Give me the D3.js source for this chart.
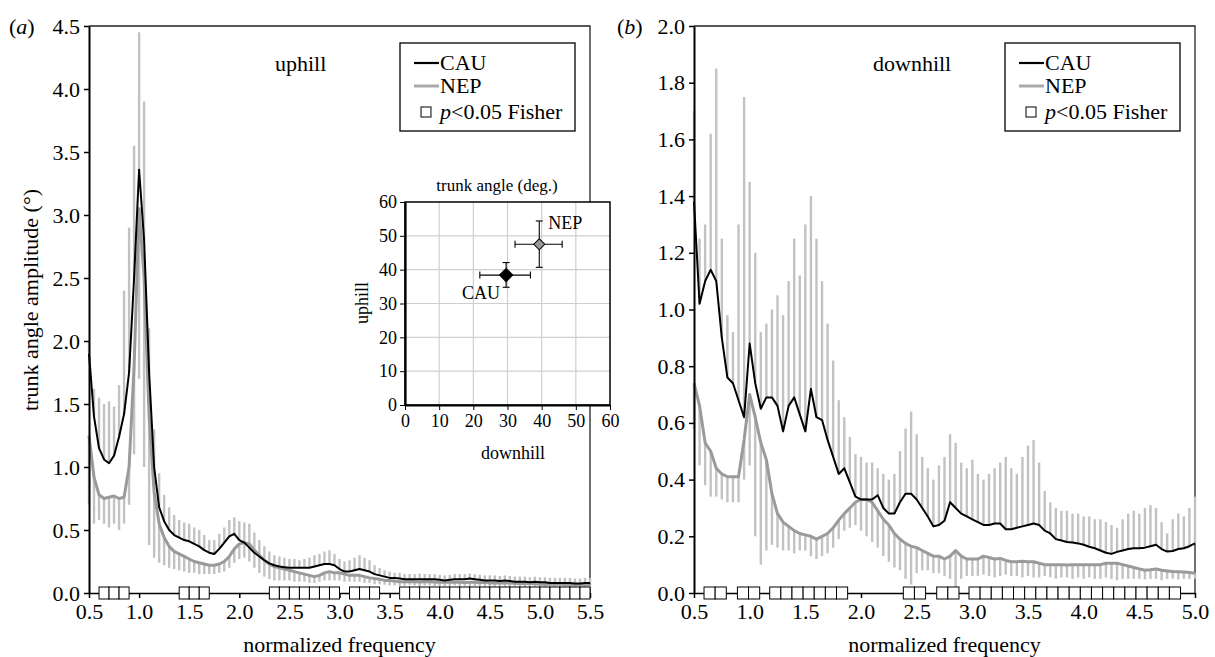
<!DOCTYPE html>
<html>
<head>
<meta charset="utf-8">
<title>trunk angle amplitude</title>
<script src="https://cdn.jsdelivr.net/npm/d3@7"></script>
<style>
  body { margin: 0; background: #fff; }
  text { font-family: "Liberation Serif", "Times New Roman", serif; }
</style>
</head>
<body>
<script>
'use strict';

// normalized frequency grid (panel b stops at 5.0)
var freqA = [
  0.50, 0.55, 0.60, 0.65, 0.70, 0.75, 0.80, 0.85, 0.90, 0.95,
  1.00, 1.05, 1.10, 1.15, 1.20, 1.25, 1.30, 1.35, 1.40, 1.45,
  1.50, 1.55, 1.60, 1.65, 1.70, 1.75, 1.80, 1.85, 1.90, 1.95,
  2.00, 2.05, 2.10, 2.15, 2.20, 2.25, 2.30, 2.35, 2.40, 2.45,
  2.50, 2.55, 2.60, 2.65, 2.70, 2.75, 2.80, 2.85, 2.90, 2.95,
  3.00, 3.05, 3.10, 3.15, 3.20, 3.25, 3.30, 3.35, 3.40, 3.45,
  3.50, 3.55, 3.60, 3.65, 3.70, 3.75, 3.80, 3.85, 3.90, 3.95,
  4.00, 4.05, 4.10, 4.15, 4.20, 4.25, 4.30, 4.35, 4.40, 4.45,
  4.50, 4.55, 4.60, 4.65, 4.70, 4.75, 4.80, 4.85, 4.90, 4.95,
  5.00, 5.05, 5.10, 5.15, 5.20, 5.25, 5.30, 5.35, 5.40, 5.45,
  5.50
];
var freqB = freqA.slice(0, 91);

// (a) uphill
var cauA = [
  1.90, 1.40, 1.15, 1.06, 1.03, 1.09, 1.24, 1.42, 1.75, 2.50,
  3.36, 2.80, 1.75, 1.00, 0.68, 0.57, 0.50, 0.46, 0.44, 0.42,
  0.41, 0.39, 0.37, 0.34, 0.32, 0.31, 0.35, 0.40, 0.45, 0.47,
  0.42, 0.40, 0.36, 0.32, 0.29, 0.26, 0.235, 0.22, 0.21, 0.205,
  0.20, 0.20, 0.20, 0.20, 0.20, 0.21, 0.22, 0.23, 0.23, 0.22,
  0.19, 0.17, 0.17, 0.18, 0.19, 0.18, 0.17, 0.15, 0.14, 0.13,
  0.12, 0.12, 0.115, 0.11, 0.11, 0.11, 0.11, 0.11, 0.11, 0.11,
  0.105, 0.10, 0.105, 0.11, 0.11, 0.11, 0.115, 0.11, 0.105, 0.10,
  0.10, 0.10, 0.095, 0.10, 0.095, 0.09, 0.09, 0.09, 0.085, 0.09,
  0.085, 0.085, 0.08, 0.08, 0.08, 0.08, 0.08, 0.075, 0.075, 0.08,
  0.08
];
var cauUpA = [
  2.00, 1.62, 1.55, 1.50, 1.52, 1.48, 1.65, 2.40, 2.90, 3.55,
  4.45, 3.90, 2.10, 1.30, 0.95, 0.78, 0.68, 0.62, 0.58, 0.56,
  0.55, 0.52, 0.50, 0.46, 0.42, 0.42, 0.47, 0.52, 0.58, 0.60,
  0.57, 0.56, 0.55, 0.48, 0.42, 0.37, 0.33, 0.30, 0.29, 0.28,
  0.27, 0.27, 0.26, 0.27, 0.28, 0.30, 0.31, 0.33, 0.34, 0.31,
  0.27, 0.25, 0.26, 0.28, 0.30, 0.28, 0.26, 0.22, 0.20, 0.18,
  0.17, 0.16, 0.16, 0.15, 0.15, 0.15, 0.155, 0.15, 0.15, 0.15,
  0.145, 0.14, 0.145, 0.15, 0.15, 0.15, 0.155, 0.15, 0.145, 0.14,
  0.14, 0.14, 0.135, 0.14, 0.135, 0.13, 0.13, 0.13, 0.125, 0.13,
  0.125, 0.125, 0.12, 0.12, 0.12, 0.12, 0.12, 0.115, 0.115, 0.12,
  0.12
];
var nepA = [
  1.25, 0.92, 0.78, 0.75, 0.76, 0.77, 0.75, 0.76, 1.00, 1.80,
  3.05, 2.50, 1.40, 0.80, 0.55, 0.44, 0.37, 0.33, 0.31, 0.29,
  0.27, 0.25, 0.24, 0.23, 0.22, 0.22, 0.23, 0.25, 0.29, 0.35,
  0.39, 0.40, 0.39, 0.34, 0.30, 0.26, 0.23, 0.21, 0.20, 0.19,
  0.18, 0.17, 0.16, 0.15, 0.14, 0.13, 0.14, 0.16, 0.17, 0.16,
  0.16, 0.15, 0.14, 0.14, 0.14, 0.13, 0.12, 0.115, 0.11, 0.10,
  0.10, 0.095, 0.09, 0.09, 0.092, 0.09, 0.088, 0.09, 0.09, 0.088,
  0.085, 0.085, 0.087, 0.085, 0.085, 0.083, 0.085, 0.085, 0.083, 0.085,
  0.08, 0.08, 0.082, 0.08, 0.08, 0.078, 0.075, 0.075, 0.077, 0.075,
  0.07, 0.07, 0.072, 0.07, 0.07, 0.068, 0.065, 0.065, 0.067, 0.065,
  0.065
];
var nepLoA = [
  0.70, 0.55, 0.58, 0.55, 0.52, 0.55, 0.50, 0.55, 0.70, 1.10,
  1.70, 1.00, 0.38, 0.28, 0.24, 0.22, 0.20, 0.19, 0.18, 0.17,
  0.16, 0.16, 0.15, 0.15, 0.15, 0.15, 0.16, 0.17, 0.20, 0.24,
  0.27, 0.28, 0.25, 0.20, 0.16, 0.13, 0.11, 0.10, 0.10, 0.10,
  0.10, 0.09, 0.09, 0.09, 0.08, 0.08, 0.09, 0.10, 0.10, 0.10,
  0.10, 0.09, 0.09, 0.09, 0.09, 0.08, 0.08, 0.07, 0.07, 0.065,
  0.06, 0.06, 0.055, 0.06, 0.065, 0.06, 0.055, 0.06, 0.06, 0.055,
  0.055, 0.05, 0.055, 0.06, 0.055, 0.055, 0.05, 0.055, 0.055, 0.05,
  0.05, 0.05, 0.055, 0.05, 0.045, 0.05, 0.05, 0.045, 0.05, 0.05,
  0.045, 0.045, 0.05, 0.045, 0.04, 0.045, 0.045, 0.04, 0.045, 0.045,
  0.045
];

// (b) downhill
var cauB = [
  1.38, 1.02, 1.10, 1.14, 1.10, 0.90, 0.76, 0.74, 0.68, 0.62,
  0.88, 0.74, 0.65, 0.69, 0.69, 0.66, 0.57, 0.66, 0.69, 0.63,
  0.57, 0.72, 0.62, 0.61, 0.54, 0.48, 0.42, 0.44, 0.39, 0.34,
  0.33, 0.33, 0.33, 0.345, 0.30, 0.28, 0.28, 0.32, 0.35, 0.35,
  0.33, 0.30, 0.27, 0.235, 0.24, 0.255, 0.32, 0.30, 0.28, 0.27,
  0.26, 0.25, 0.24, 0.24, 0.245, 0.245, 0.225, 0.225, 0.23, 0.235,
  0.24, 0.245, 0.24, 0.22, 0.21, 0.19, 0.185, 0.18, 0.178, 0.175,
  0.17, 0.163, 0.158, 0.15, 0.142, 0.138, 0.145, 0.15, 0.155, 0.158,
  0.158, 0.16, 0.165, 0.17, 0.155, 0.146, 0.148, 0.155, 0.158, 0.165,
  0.175
];
var cauUpB = [
  1.70, 1.25, 1.30, 1.62, 1.85, 1.25, 0.98, 0.92, 1.30, 1.75,
  1.45, 1.20, 0.92, 0.95, 1.00, 1.05, 0.98, 1.10, 1.25, 1.12,
  1.30, 1.40, 1.25, 1.10, 0.95, 0.82, 0.68, 0.62, 0.55, 0.49,
  0.48, 0.46, 0.46, 0.44, 0.42, 0.40, 0.42, 0.50, 0.58, 0.64,
  0.56, 0.48, 0.44, 0.40, 0.45, 0.48, 0.56, 0.53, 0.46, 0.44,
  0.47, 0.42, 0.40, 0.42, 0.44, 0.46, 0.48, 0.44, 0.42, 0.48,
  0.52, 0.54, 0.46, 0.36, 0.32, 0.30, 0.29, 0.29, 0.28, 0.28,
  0.27, 0.27, 0.26, 0.26, 0.25, 0.24, 0.23, 0.26, 0.28, 0.29,
  0.28, 0.30, 0.31, 0.30, 0.25, 0.21, 0.26, 0.28, 0.27, 0.30,
  0.34
];
var nepB = [
  0.74, 0.66, 0.53, 0.50, 0.44, 0.42, 0.41, 0.41, 0.41, 0.54,
  0.70, 0.62, 0.53, 0.47, 0.35, 0.28, 0.25, 0.235, 0.22, 0.21,
  0.205, 0.20, 0.19, 0.20, 0.21, 0.23, 0.257, 0.28, 0.30, 0.32,
  0.33, 0.33, 0.32, 0.29, 0.26, 0.24, 0.21, 0.19, 0.175, 0.165,
  0.16, 0.15, 0.14, 0.13, 0.13, 0.12, 0.13, 0.15, 0.13, 0.12,
  0.12, 0.12, 0.13, 0.125, 0.12, 0.122, 0.115, 0.11, 0.11, 0.112,
  0.11, 0.11, 0.105, 0.10, 0.10, 0.10, 0.10, 0.099, 0.10, 0.10,
  0.10, 0.10, 0.10, 0.10, 0.105, 0.105, 0.105, 0.10, 0.095, 0.09,
  0.085, 0.08, 0.082, 0.085, 0.08, 0.078, 0.076, 0.075, 0.074, 0.072,
  0.07
];
var nepLoB = [
  0.58, 0.45, 0.38, 0.34, 0.34, 0.33, 0.32, 0.32, 0.32, 0.40,
  0.45, 0.20, 0.10, 0.15, 0.17, 0.16, 0.15, 0.15, 0.14, 0.15,
  0.15, 0.13, 0.12, 0.13, 0.14, 0.16, 0.19, 0.22, 0.23, 0.24,
  0.22, 0.20, 0.18, 0.16, 0.13, 0.11, 0.09, 0.08, 0.05, 0.03,
  0.07, 0.08, 0.08, 0.07, 0.07, 0.06, 0.05, 0.02, 0.05, 0.06,
  0.06, 0.06, 0.065, 0.06, 0.055, 0.06, 0.065, 0.06, 0.06, 0.055,
  0.06, 0.055, 0.055, 0.06, 0.055, 0.05, 0.055, 0.055, 0.05, 0.055,
  0.05, 0.055, 0.05, 0.05, 0.055, 0.05, 0.045, 0.05, 0.05, 0.05,
  0.05, 0.048, 0.05, 0.05, 0.045, 0.05, 0.05, 0.048, 0.05, 0.05,
  0.05
];

// frequency bins (start) with p<0.05 Fisher, bins are 0.1 wide
var sigWidth = 0.1;
var sigA = [0.6, 0.7, 0.8, 1.4, 1.5, 1.6,
  2.3, 2.4, 2.5, 2.6, 2.7, 2.8, 2.9, 3.1, 3.2, 3.3,
  3.6, 3.7, 3.8, 3.9, 4.0, 4.1, 4.2, 4.3, 4.4, 4.5, 4.6, 4.7, 4.8, 4.9, 5.0, 5.1, 5.2, 5.3, 5.4];
var sigB = [0.59, 0.69, 0.89, 0.99,
  1.18, 1.28, 1.38, 1.48, 1.58, 1.68, 1.78,
  2.38, 2.48, 2.68, 2.78,
  2.97, 3.07, 3.17, 3.27, 3.37, 3.47, 3.57, 3.67, 3.77, 3.87,
  3.97, 4.07, 4.17, 4.27, 4.37, 4.47, 4.57, 4.67, 4.77];

var xTicksA = [0.5, 1.0, 1.5, 2.0, 2.5, 3.0, 3.5, 4.0, 4.5, 5.0, 5.5];
var xTicksB = [0.5, 1.0, 1.5, 2.0, 2.5, 3.0, 3.5, 4.0, 4.5, 5.0];
var yTicksA = [0, 0.5, 1.0, 1.5, 2.0, 2.5, 3.0, 3.5, 4.0, 4.5];
var yTicksB = [0, 0.2, 0.4, 0.6, 0.8, 1.0, 1.2, 1.4, 1.6, 1.8, 2.0];

// inset: mean trunk angle (deg.) with sd, downhill vs uphill
var groups = ['CAU', 'NEP'];
var downMean = [29.6, 39.3];
var downLo = [21.9, 32.2];
var downHi = [36.7, 46.0];
var upMean = [38.4, 47.5];
var upLo = [34.8, 40.7];
var upHi = [42.1, 54.4];
var insetTicks = [0, 10, 20, 30, 40, 50, 60];

var font = '"Liberation Serif", "Times New Roman", serif';
var width = 1215, height = 657;
var plotTop = 26, plotBottom = 593;
var barColor = '#c2c2c2', nepColor = '#9a9a9a';

var svg = d3.select('body').append('svg')
    .attr('width', width)
    .attr('height', height);

function legend(g, x0, y0) {
  g.append('rect')
      .attr('x', x0).attr('y', y0)
      .attr('width', 175).attr('height', 88)
      .attr('fill', '#fff').attr('stroke', '#000').attr('stroke-width', 1.3);
  g.append('line')
      .attr('x1', x0 + 14).attr('x2', x0 + 39).attr('y1', y0 + 20).attr('y2', y0 + 20)
      .attr('stroke', '#000').attr('stroke-width', 2.2);
  g.append('line')
      .attr('x1', x0 + 14).attr('x2', x0 + 39).attr('y1', y0 + 43).attr('y2', y0 + 43)
      .attr('stroke', '#aaa').attr('stroke-width', 3);
  g.append('rect')
      .attr('x', x0 + 21).attr('y', y0 + 64).attr('width', 10).attr('height', 10)
      .attr('fill', '#fff').attr('stroke', '#000').attr('stroke-width', 1);
  g.append('text').attr('x', x0 + 40).attr('y', y0 + 27).attr('font-size', 22).text('CAU');
  g.append('text').attr('x', x0 + 40).attr('y', y0 + 50).attr('font-size', 22).text('NEP');
  var t = g.append('text').attr('x', x0 + 40).attr('y', y0 + 76).attr('font-size', 22);
  t.append('tspan').attr('font-style', 'italic').text('p');
  t.append('tspan').text('<0.05 Fisher');
}

function drawPanel(p) {
  var x = d3.scaleLinear().domain(p.xDomain).range(p.xRange);
  var y = d3.scaleLinear().domain(p.yDomain).range([plotBottom, plotTop]);
  var g = svg.append('g');

  // top and right frame
  g.append('path')
      .attr('d', 'M' + p.xRange[0] + ',' + plotTop + 'H' + p.xRange[1] + 'V' + plotBottom)
      .attr('fill', 'none')
      .attr('stroke', '#222')
      .attr('stroke-width', 1.3);

  // sd bars: CAU upwards, NEP downwards
  g.append('g').selectAll('line')
      .data(p.freq)
    .join('line')
      .attr('x1', function(d) { return x(d); })
      .attr('x2', function(d) { return x(d); })
      .attr('y1', function(d, i) { return y(p.cau[i]); })
      .attr('y2', function(d, i) { return y(p.cauUp[i]); })
      .attr('stroke', barColor)
      .attr('stroke-width', 2.4);
  g.append('g').selectAll('line')
      .data(p.freq)
    .join('line')
      .attr('x1', function(d) { return x(d); })
      .attr('x2', function(d) { return x(d); })
      .attr('y1', function(d, i) { return y(p.nep[i]); })
      .attr('y2', function(d, i) { return y(p.nepLo[i]); })
      .attr('stroke', barColor)
      .attr('stroke-width', 2.4);

  var line = d3.line()
      .x(function(d, i) { return x(p.freq[i]); })
      .y(function(d) { return y(d); });

  g.append('path').datum(p.nep)
      .attr('d', line)
      .attr('fill', 'none')
      .attr('stroke', nepColor)
      .attr('stroke-width', 3)
      .attr('stroke-linejoin', 'round');
  g.append('path').datum(p.cau)
      .attr('d', line)
      .attr('fill', 'none')
      .attr('stroke', '#000')
      .attr('stroke-width', 2)
      .attr('stroke-linejoin', 'round');

  var yAxis = d3.axisLeft(y)
      .tickValues(p.yTicks)
      .tickFormat(d3.format('.1f'))
      .tickSize(5)
      .tickSizeOuter(0)
      .tickPadding(4);
  var yg = g.append('g')
      .attr('transform', 'translate(' + p.xRange[0] + ',0)')
      .call(yAxis)
      .attr('font-family', font)
      .attr('font-size', 22);
  yg.select('.domain').attr('stroke-width', 2);
  yg.selectAll('.tick line').attr('stroke-width', 1.5);

  var xAxis = d3.axisBottom(x)
      .tickValues(p.xTicks)
      .tickFormat(d3.format('.1f'))
      .tickSize(5)
      .tickSizeOuter(0)
      .tickPadding(5);
  var xg = g.append('g')
      .attr('transform', 'translate(0,' + plotBottom + ')')
      .call(xAxis)
      .attr('font-family', font)
      .attr('font-size', 22);
  xg.select('.domain').attr('stroke-width', 1.5);
  xg.selectAll('.tick line').attr('stroke-width', 1.5);

  // p<0.05 squares on the zero line
  g.append('g').selectAll('rect')
      .data(p.sig)
    .join('rect')
      .attr('x', function(d) { return x(d); })
      .attr('y', y(0) - 6)
      .attr('width', function(d) { return x(d + sigWidth) - x(d); })
      .attr('height', 12)
      .attr('fill', '#fff')
      .attr('stroke', '#000')
      .attr('stroke-width', 1);

  g.append('text')
      .attr('x', (p.xRange[0] + p.xRange[1]) / 2)
      .attr('y', 652)
      .attr('text-anchor', 'middle')
      .attr('font-size', 22)
      .text('normalized frequency');

  var letter = g.append('text')
      .attr('x', p.letterX)
      .attr('y', plotTop + 8)
      .attr('font-size', 22);
  letter.append('tspan').text('(');
  letter.append('tspan').attr('font-style', 'italic').text(p.letter);
  letter.append('tspan').text(')');

  g.append('text')
      .attr('x', p.labelX)
      .attr('y', 71)
      .attr('font-size', 22)
      .text(p.label);

  legend(g, p.xRange[1] - 190, 43);
}

drawPanel({
  freq: freqA, cau: cauA, cauUp: cauUpA, nep: nepA, nepLo: nepLoA, sig: sigA,
  xDomain: [0.5, 5.5], xRange: [89, 590], yDomain: [0, 4.5],
  xTicks: xTicksA, yTicks: yTicksA,
  letter: 'a', letterX: 9, label: 'uphill', labelX: 275
});

drawPanel({
  freq: freqB, cau: cauB, cauUp: cauUpB, nep: nepB, nepLo: nepLoB, sig: sigB,
  xDomain: [0.5, 5.0], xRange: [694, 1195], yDomain: [0, 2.0],
  xTicks: xTicksB, yTicks: yTicksB,
  letter: 'b', letterX: 617, label: 'downhill', labelX: 873
});

// y title, panel a only
svg.append('text')
    .attr('transform', 'translate(38,300) rotate(-90)')
    .attr('text-anchor', 'middle')
    .attr('font-size', 22)
    .text('trunk angle amplitude (\u00b0)');

// inset
var ix = d3.scaleLinear().domain([0, 60]).range([405, 610]);
var iy = d3.scaleLinear().domain([0, 60]).range([405, 202]);
var ig = svg.append('g');

ig.append('rect')
    .attr('x', ix(0)).attr('y', iy(60))
    .attr('width', ix(60) - ix(0)).attr('height', iy(0) - iy(60))
    .attr('fill', '#fff');

ig.append('g').selectAll('line')
    .data(insetTicks.slice(1, -1))
  .join('line')
    .attr('x1', function(d) { return ix(d); })
    .attr('x2', function(d) { return ix(d); })
    .attr('y1', iy(0)).attr('y2', iy(60))
    .attr('stroke', '#cfcfcf').attr('stroke-width', 1.2);
ig.append('g').selectAll('line')
    .data(insetTicks.slice(1, -1))
  .join('line')
    .attr('y1', function(d) { return iy(d); })
    .attr('y2', function(d) { return iy(d); })
    .attr('x1', ix(0)).attr('x2', ix(60))
    .attr('stroke', '#cfcfcf').attr('stroke-width', 1.2);

ig.append('rect')
    .attr('x', ix(0)).attr('y', iy(60))
    .attr('width', ix(60) - ix(0)).attr('height', iy(0) - iy(60))
    .attr('fill', 'none').attr('stroke', '#000').attr('stroke-width', 1.5);

var iyg = ig.append('g')
    .attr('transform', 'translate(' + ix(0) + ',0)')
    .call(d3.axisLeft(iy).tickValues(insetTicks).tickSize(5).tickSizeOuter(0).tickPadding(3))
    .attr('font-family', font)
    .attr('font-size', 18);
iyg.select('.domain').attr('stroke-width', 2.2);
var ixg = ig.append('g')
    .attr('transform', 'translate(0,' + iy(0) + ')')
    .call(d3.axisBottom(ix).tickValues(insetTicks).tickSize(5).tickSizeOuter(0).tickPadding(4))
    .attr('font-family', font)
    .attr('font-size', 18);
ixg.select('.domain').attr('stroke-width', 2.2);

// error bars
var cap = 3.5;
groups.forEach(function(name, i) {
  var eb = ig.append('g').attr('stroke', '#000').attr('stroke-width', 1.1);
  eb.append('line').attr('x1', ix(downLo[i])).attr('x2', ix(downHi[i]))
      .attr('y1', iy(upMean[i])).attr('y2', iy(upMean[i]));
  eb.append('line').attr('x1', ix(downLo[i])).attr('x2', ix(downLo[i]))
      .attr('y1', iy(upMean[i]) - cap).attr('y2', iy(upMean[i]) + cap);
  eb.append('line').attr('x1', ix(downHi[i])).attr('x2', ix(downHi[i]))
      .attr('y1', iy(upMean[i]) - cap).attr('y2', iy(upMean[i]) + cap);
  eb.append('line').attr('x1', ix(downMean[i])).attr('x2', ix(downMean[i]))
      .attr('y1', iy(upLo[i])).attr('y2', iy(upHi[i]));
  eb.append('line').attr('x1', ix(downMean[i]) - cap).attr('x2', ix(downMean[i]) + cap)
      .attr('y1', iy(upLo[i])).attr('y2', iy(upLo[i]));
  eb.append('line').attr('x1', ix(downMean[i]) - cap).attr('x2', ix(downMean[i]) + cap)
      .attr('y1', iy(upHi[i])).attr('y2', iy(upHi[i]));
});

ig.append('g').selectAll('path')
    .data(groups)
  .join('path')
    .attr('d', function(d, i) {
      return d3.symbol().type(d3.symbolSquare).size(i === 0 ? 88 : 62)();
    })
    .attr('transform', function(d, i) {
      return 'translate(' + ix(downMean[i]) + ',' + iy(upMean[i]) + ') rotate(45)';
    })
    .attr('fill', function(d, i) { return i === 0 ? '#000' : '#999'; })
    .attr('stroke', '#000')
    .attr('stroke-width', 1);

ig.append('text')
    .attr('x', ix(downMean[1]) + 9)
    .attr('y', iy(upMean[1]) - 15)
    .attr('font-size', 18)
    .text(groups[1]);
ig.append('text')
    .attr('x', ix(downMean[0]) - 6)
    .attr('y', iy(upMean[0]) + 24)
    .attr('text-anchor', 'end')
    .attr('font-size', 18)
    .text(groups[0]);

ig.append('text')
    .attr('x', 497).attr('y', 191)
    .attr('text-anchor', 'middle')
    .attr('font-size', 17)
    .text('trunk angle (deg.)');
ig.append('text')
    .attr('x', 513).attr('y', 459)
    .attr('text-anchor', 'middle')
    .attr('font-size', 18)
    .text('downhill');
ig.append('text')
    .attr('transform', 'translate(368,303) rotate(-90)')
    .attr('text-anchor', 'middle')
    .attr('font-size', 18)
    .text('uphill');
</script>
</body>
</html>
